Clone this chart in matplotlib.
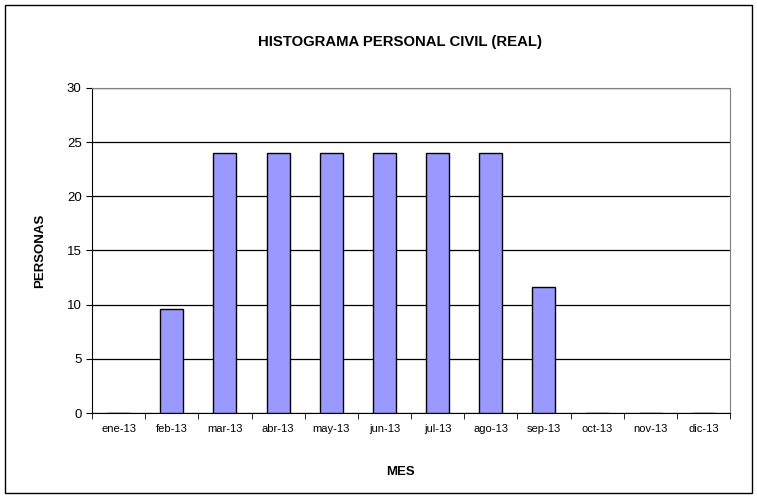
import matplotlib
matplotlib.use("Agg")
import matplotlib.pyplot as plt
from matplotlib.patches import Rectangle

plt.rcParams['font.family'] = ['Liberation Sans', 'DejaVu Sans']

meses = ['ene-13', 'feb-13', 'mar-13', 'abr-13', 'may-13', 'jun-13',
         'jul-13', 'ago-13', 'sep-13', 'oct-13', 'nov-13', 'dic-13']
personas = [0, 9.6, 24, 24, 24, 24, 24, 24, 11.6, 0, 0, 0]

fig = plt.figure(figsize=(7.57, 4.98), dpi=100)
W, H = 757, 498
ax = fig.add_axes([92 / W, 1 - 413 / H, (730 - 92) / W, (413 - 88) / H])

# outer chart border
fig.patches.append(Rectangle((5 / W, 5 / H), 747 / W, 488 / H, transform=fig.transFigure,
                             fill=False, edgecolor='black', linewidth=1))

x = list(range(len(meses)))
ax.bar(x, personas, width=0.43, color='#9999FF', edgecolor='black', linewidth=1, zorder=3)

ax.set_xlim(-0.5, len(meses) - 0.5)
ax.set_ylim(0, 30)
ax.set_yticks(range(0, 31, 5))
ax.set_xticks(x)
ax.set_xticklabels(meses, fontsize=8)
ax.set_xticks([i - 0.5 for i in range(len(meses) + 1)], minor=True)
ax.tick_params(axis='x', which='major', length=0, pad=8)
ax.tick_params(axis='x', which='minor', length=4, direction='out')
ax.tick_params(axis='y', labelsize=9.5, length=4)
ax.yaxis.grid(True, color='black', linewidth=0.9, zorder=0)

for s in ['top', 'right']:
    ax.spines[s].set_color('#808080')
ax.spines['left'].set_color('black')
ax.spines['bottom'].set_color('black')

fig.text(400 / W, 1 - 42 / H, 'HISTOGRAMA PERSONAL CIVIL (REAL)', ha='center', va='center',
         fontsize=10.7, fontweight='bold')
fig.text(400 / W, 1 - 472 / H, 'MES', ha='center', va='center', fontsize=9.5, fontweight='bold')
fig.text(40 / W, 1 - 251 / H, 'PERSONAS', ha='center', va='center', rotation=90,
         fontsize=9.5, fontweight='bold')

fig.savefig('out.png', dpi=100)
